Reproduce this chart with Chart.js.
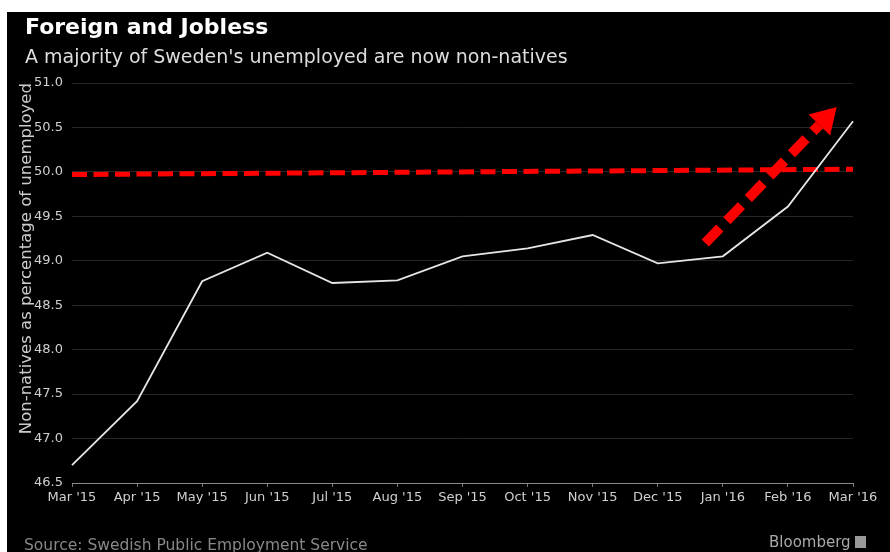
<!DOCTYPE html>
<html>
<head>
<meta charset="utf-8">
<script src="https://cdn.jsdelivr.net/npm/chart.js@4.4.1/dist/chart.umd.min.js"></script>
<style>
    html, body { margin: 0; padding: 0; width: 890px; height: 552px; overflow: hidden; background: #fff; }
    body { position: relative; font-family: 'DejaVu Sans', sans-serif; }
    #wrap { position: absolute; left: 7px; top: 12px; width: 883px; height: 540px; background: #000; }
    .txt { position: absolute; white-space: nowrap; line-height: 1; }
    #titulo { left: 25px; top: 16px; font-size: 22px; font-weight: bold; color: #fff; }
    #subtitulo { left: 25px; top: 47px; font-size: 19px; color: #ddd; }
    #fonte { left: 24px; top: 538px; font-size: 15.5px; color: #888; }
    #marca { left: 769px; top: 535px; font-size: 15px; color: #aaa; }
    #marca span { display: inline-block; width: 11px; height: 12px; background: #999; margin-left: 4px; vertical-align: -1px; }
</style>
</head>
<body>
<div id="wrap"><canvas id="grafico" width="883" height="540"></canvas></div>
<div class="txt" id="titulo">Foreign and Jobless</div>
<div class="txt" id="subtitulo">A majority of Sweden's unemployed are now non-natives</div>
<div class="txt" id="fonte">Source: Swedish Public Employment Service</div>
<div class="txt" id="marca">Bloomberg<span></span></div>

<script>
// Dados
const meses = ["Mar '15", "Apr '15", "May '15", "Jun '15", "Jul '15", "Aug '15", "Sep '15",
               "Oct '15", "Nov '15", "Dec '15", "Jan '16", "Feb '16", "Mar '16"];
const naoNativos = [46.70, 47.42, 48.77, 49.09, 48.75, 48.78, 49.05, 49.14, 49.29, 48.97, 49.05, 49.61, 50.57];

// Linha vermelha tracejada (anotação à mão, quase em 50%)
const linhaVermelha = [49.97, 50.03];

// Seta vermelha: [índice do mês, valor] da cauda e da ponta
const setaInicio = [9.73, 49.20];
const setaFim = [11.75, 50.73];

// Plugin para desenhar a seta tracejada
const setaPlugin = {
    id: 'seta',
    afterDatasetsDraw(chart) {
        const { ctx, scales: { x, y } } = chart;
        const x1 = x.getPixelForValue(setaInicio[0]);
        const y1 = y.getPixelForValue(setaInicio[1]);
        const x2 = x.getPixelForValue(setaFim[0]);
        const y2 = y.getPixelForValue(setaFim[1]);
        const ang = Math.atan2(y2 - y1, x2 - x1);
        const comp = 25, meia = 15;
        const bx = x2 - comp * Math.cos(ang);
        const by = y2 - comp * Math.sin(ang);

        ctx.save();
        ctx.strokeStyle = '#ff0000';
        ctx.lineWidth = 10;
        ctx.setLineDash([21, 10]);
        ctx.beginPath();
        ctx.moveTo(x1, y1);
        ctx.lineTo(bx, by);
        ctx.stroke();

        ctx.setLineDash([]);
        ctx.fillStyle = '#ff0000';
        ctx.beginPath();
        ctx.moveTo(x2, y2);
        ctx.lineTo(bx + meia * Math.sin(ang), by - meia * Math.cos(ang));
        ctx.lineTo(bx - meia * Math.sin(ang), by + meia * Math.cos(ang));
        ctx.closePath();
        ctx.fill();
        ctx.restore();
    }
};

const fonteTicks = { family: 'DejaVu Sans', size: 13 };

new Chart(document.getElementById('grafico').getContext('2d'), {
    type: 'line',
    data: {
        labels: meses,
        datasets: [
            {
                label: 'Non-natives',
                data: naoNativos,
                borderColor: '#e6e6e6',
                borderWidth: 1.8,
                pointRadius: 0,
                tension: 0
            },
            {
                label: '50%',
                data: [{ x: meses[0], y: linhaVermelha[0] }, { x: meses[meses.length - 1], y: linhaVermelha[1] }],
                borderColor: '#ff0000',
                borderWidth: 5,
                borderDash: [15, 6.5],
                pointRadius: 0,
                tension: 0
            }
        ]
    },
    options: {
        responsive: false,
        animation: false,
        layout: { padding: { top: 71, right: 37, left: 0, bottom: 0 } },
        plugins: {
            legend: { display: false },
            tooltip: { enabled: false }
        },
        scales: {
            x: {
                offset: false,
                grid: { drawOnChartArea: false, drawTicks: true, tickLength: 4, color: '#777' },
                border: { display: true, color: '#888', width: 1 },
                ticks: { color: '#d0d0d0', font: fonteTicks, padding: 3, maxRotation: 0, autoSkip: false },
                afterFit: function(s) { s.height = 69; }
            },
            y: {
                min: 46.5,
                max: 51,
                grid: { color: '#262626', drawTicks: false },
                border: { display: false },
                ticks: {
                    stepSize: 0.5,
                    color: '#d0d0d0',
                    font: fonteTicks,
                    padding: 9,
                    callback: function(v) { return v.toFixed(1); }
                },
                title: {
                    display: true,
                    text: 'Non-natives as percentage of unemployed',
                    align: 'end',
                    color: '#ccc',
                    font: { family: 'DejaVu Sans', size: 16.5 },
                    padding: { top: 10, bottom: 0 }
                },
                afterFit: function(s) { s.width = 65; }
            }
        }
    },
    plugins: [setaPlugin]
});
</script>
</body>
</html>
